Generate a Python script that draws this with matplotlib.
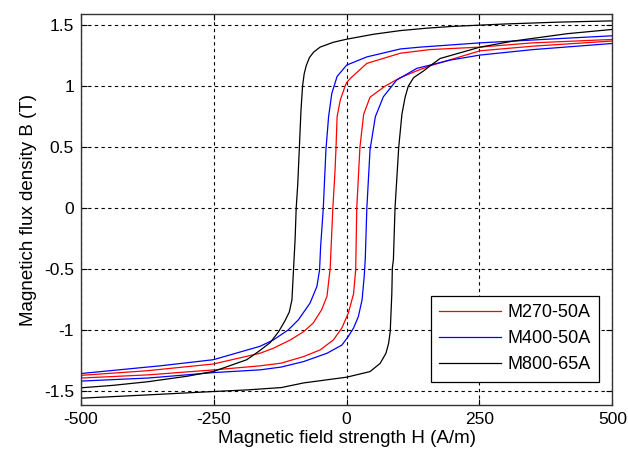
import numpy as np
import matplotlib
matplotlib.use("Agg")
from matplotlib import pyplot as plt

plt.rcParams['font.family'] = ['Liberation Sans', 'DejaVu Sans']
plt.rcParams['axes.unicode_minus'] = False

# M270-50A
h_red_down = [500, 350, 250, 157, 101, 38, 7, 0, -3, -12, -18, -20, -22, -26, -31, -37, -47, -63, -81, -106, -138, -163, -251, -375, -500]
b_red_down = [1.383, 1.355, 1.32, 1.30, 1.27, 1.187, 1.064, 1.03, 1.0, 0.886, 0.75, 0.5, 0.3, 0.0, -0.49, -0.72, -0.83, -0.94, -1.01, -1.078, -1.146, -1.187, -1.275, -1.33, -1.368]
h_red_up = [-500, -374, -249, -163, -123, -81, -50, -25, -9, 3, 13, 17, 19, 25, 32, 44, 72, 101, 132, 157, 251, 351, 500]
b_red_up = [-1.39, -1.364, -1.323, -1.29, -1.268, -1.214, -1.16, -1.078, -0.98, -0.86, -0.70, -0.505, 0.0, 0.5, 0.77, 0.91, 1.0, 1.07, 1.126, 1.167, 1.29, 1.328, 1.37]

# M400-50A
h_blue_down = [500, 400, 251, 138, 101, 38, 0, -18, -28, -34, -39, -44, -49, -51, -56, -69, -91, -110, -138, -163, -251, -351, -500]
b_blue_down = [1.413, 1.39, 1.355, 1.32, 1.305, 1.24, 1.173, 1.08, 0.94, 0.75, 0.48, 0.0, -0.314, -0.505, -0.64, -0.777, -0.914, -0.996, -1.078, -1.13, -1.24, -1.29, -1.353]
h_blue_up = [-500, -374, -249, -163, -123, -81, -37, -9, 3, 13, 22, 29, 33, 35, 38, 44, 54, 69, 94, 132, 195, 251, 351, 500]
b_blue_up = [-1.415, -1.39, -1.345, -1.323, -1.30, -1.255, -1.187, -1.12, -1.05, -0.98, -0.887, -0.75, -0.56, -0.42, 0.0, 0.48, 0.75, 0.913, 1.05, 1.146, 1.214, 1.255, 1.30, 1.35]

# M800-65A
h_black_down = [500, 400, 300, 200, 150, 100, 50, 0, -25, -50, -62, -70, -76, -80, -83, -86, -89, -92, -95, -97, -100, -103, -108, -116, -128, -144, -165, -188, -250, -300, -374, -440, -500]
b_black_down = [1.535, 1.525, 1.51, 1.49, 1.475, 1.455, 1.425, 1.385, 1.36, 1.32, 1.28, 1.235, 1.17, 1.1, 1.0, 0.8, 0.5, 0.2, 0.0, -0.25, -0.5, -0.75, -0.85, -0.92, -1.01, -1.1, -1.17, -1.24, -1.335, -1.375, -1.42, -1.45, -1.47]
h_black_up = [-500, -374, -249, -186, -123, -81, 0, 44, 63, 74, 79, 82, 85, 86, 88, 91, 98, 104, 110, 116, 126, 145, 157, 176, 251, 314, 415, 500]
b_black_up = [-1.555, -1.528, -1.50, -1.487, -1.468, -1.43, -1.383, -1.337, -1.27, -1.187, -1.105, -1.01, -0.70, -0.49, -0.42, 0.0, 0.5, 0.77, 0.91, 1.0, 1.07, 1.126, 1.167, 1.227, 1.32, 1.37, 1.43, 1.465]

labels = ['M270-50A', 'M400-50A', 'M800-65A']
xticks = [-500, -250, 0, 250, 500]
yticks = [-1.5, -1, -0.5, 0, 0.5, 1, 1.5]
ytick_labels = ['-1.5', '-1', '-0.5', '0', '0.5', '1', '1.5']

fig = plt.figure(figsize=(6.28, 4.57), dpi=100)
ax = fig.add_axes([0.129, 0.114, 0.846, 0.855])

lw = 0.9
l1, = ax.plot(h_red_down + h_red_up, b_red_down + b_red_up, color='#ff0000', lw=lw)
l2, = ax.plot(h_blue_down + h_blue_up, b_blue_down + b_blue_up, color='#0000ff', lw=lw)
l3, = ax.plot(h_black_down + h_black_up, b_black_down + b_black_up, color='black', lw=lw)

ax.set_xlim(-500, 500)
ax.set_ylim(-1.61, 1.59)
ax.set_xticks(xticks)
ax.set_yticks(yticks)
ax.set_yticklabels(ytick_labels)
ax.tick_params(direction='in', labelsize=12.5, length=4, top=True, right=True, width=0.8, pad=5)
ax.grid(True, color='black', linestyle=(0, (3, 3)), linewidth=0.8)
for s in ax.spines.values():
    s.set_color('#333333')
    s.set_linewidth(1.0)

ax.set_xlabel('Magnetic field strength H (A/m)', fontsize=13.5, labelpad=2)
ax.set_ylabel('Magnetich flux density B (T)', fontsize=13.5, labelpad=5)

leg = ax.legend([l1, l2, l3], labels, loc='lower right', bbox_to_anchor=(0.9755, 0.0596),
                borderaxespad=0, fancybox=False, framealpha=1, edgecolor='black',
                fontsize=13, handlelength=3.4, handletextpad=0.4, labelspacing=0.5,
                borderpad=0.45)
leg.get_frame().set_linewidth(0.9)

fig.savefig('out.png', dpi=100)
